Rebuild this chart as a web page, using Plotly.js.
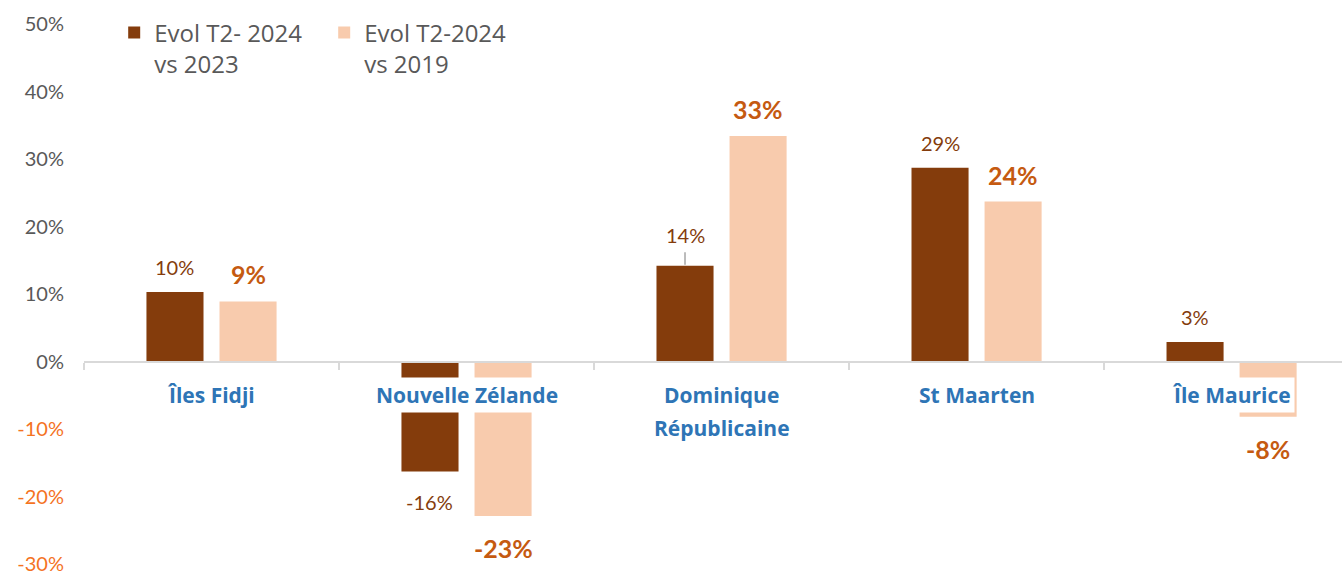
<!DOCTYPE html>
<html><head><meta charset="utf-8">
<script src="https://cdn.plot.ly/plotly-3.0.1.min.js"></script>
<style>html,body{margin:0;padding:0;background:#fff}#chart{width:1342px;height:575px}</style>
</head><body><div id="chart"></div>
<script>
// ---- data ----
const categories = ["Îles Fidji", "Nouvelle Zélande", "Dominique<br>Républicaine", "St Maarten", "Île Maurice"];
const seriesNames = ["Evol T2- 2024<br>vs 2023", "Evol T2-2024<br>vs 2019"];
const evolVs2023 = [0.103, -0.163, 0.142, 0.287, 0.029];
const evolVs2019 = [0.089, -0.229, 0.334, 0.237, -0.082];
const yTickValues = [-0.3, -0.2, -0.1, 0, 0.1, 0.2, 0.3, 0.4, 0.5];
const yTickLabels = ["-30%", "-20%", "-10%", "0%", "10%", "20%", "30%", "40%", "50%"];

// ---- style ----
const W = 1342, H = 575;
const M = {l: 84, r: 0, t: 24, b: 11};
const XRANGE = [-0.5, 4.433];
const YRANGE = [-0.30, 0.50];
const BARGAP = 0.427, BARGROUPGAP = 0.219;
const DARK = "#843C0C", LIGHT = "#F8CBAD";
const DARK_LABEL = "#843C0C", LIGHT_LABEL = "#C55A11";
const AXIS_GREY = "#D9D9D9", TEXT_GREY = "#595959", NEG_ORANGE = "#F4731F";
const CAT_BLUE = "#2E75B6";
const LEADER_CAT = 2; // category whose dark label is lifted with a leader line

const catPx = (W - M.l - M.r) / (XRANGE[1] - XRANGE[0]);
const slotPx = catPx * (1 - BARGAP) / 2;
const barOffset = slotPx / 2;

const traces = [
  {type: "bar", name: seriesNames[0], x: categories, y: evolVs2023,
   marker: {color: DARK}, hoverinfo: "skip"},
  {type: "bar", name: seriesNames[1], x: categories, y: evolVs2019,
   marker: {color: LIGHT}, hoverinfo: "skip"}
];

const pct = v => Math.round(v * 100) + "%";
const annotations = [];

// data labels
function addLabels(vals, side, color, size, weight, base) {
  vals.forEach((v, i) => {
    let shift = v >= 0 ? base : -(base + 5);
    if (side < 0 && i === LEADER_CAT) shift += 6;
    annotations.push({
      x: categories[i], y: v, xref: "x", yref: "y",
      text: pct(v), showarrow: false,
      xshift: side * barOffset, yshift: shift, yanchor: "middle",
      font: {family: "Lato, sans-serif", size: size, color: color, weight: weight}
    });
  });
}
addLabels(evolVs2023, -1, DARK_LABEL, 20, 400, 25);
addLabels(evolVs2019, 1, LIGHT_LABEL, 25, 700, 27);

// leader line for the lifted label
annotations.push({
  x: categories[LEADER_CAT], y: evolVs2023[LEADER_CAT], xref: "x", yref: "y",
  text: "", showarrow: true, arrowhead: 0, ax: 0, ay: -15, standoff: 1,
  arrowcolor: "#A6A6A6", arrowwidth: 1.5, xshift: -barOffset
});

// category labels (white boxes, like the original)
categories.forEach(c => {
  c.split("<br>").forEach((line, k) => {
    annotations.push({
      x: c, y: 0, xref: "x", yref: "y", text: line, showarrow: false,
      yanchor: "middle", yshift: -33 - 33 * k,
      bgcolor: "#FFFFFF", borderpad: 3,
      font: {family: "'Open Sans', sans-serif", size: 21, color: CAT_BLUE, weight: 700}
    });
  });
});

const yTickText = yTickValues.map((v, i) =>
  v < 0 ? '<span style="color:' + NEG_ORANGE + '">' + yTickLabels[i] + '</span>' : yTickLabels[i]);

const layout = {
  width: W, height: H,
  margin: M,
  paper_bgcolor: "#FFFFFF", plot_bgcolor: "#FFFFFF",
  barmode: "group", bargap: BARGAP, bargroupgap: BARGROUPGAP,
  showlegend: true,
  legend: {
    orientation: "h", x: 0.024, xanchor: "left", y: 1.025, yanchor: "top",
    valign: "top", entrywidth: 165, entrywidthmode: "pixels",
    font: {family: "'Open Sans', sans-serif", size: 24, color: TEXT_GREY},
    bgcolor: "rgba(0,0,0,0)", traceorder: "normal"
  },
  xaxis: {
    type: "category", range: XRANGE, fixedrange: true,
    anchor: "free", position: (0 - YRANGE[0]) / (YRANGE[1] - YRANGE[0]),
    showline: true, linecolor: AXIS_GREY, linewidth: 2,
    ticks: "outside", tickson: "boundaries", ticklen: 7, tickwidth: 2, tickcolor: AXIS_GREY,
    showticklabels: false, showgrid: false, zeroline: false
  },
  yaxis: {
    range: YRANGE, fixedrange: true,
    tickmode: "array", tickvals: yTickValues, ticktext: yTickText,
    showgrid: false, zeroline: false, showline: false, ticks: "",
    ticklabelstandoff: 19,
    tickfont: {family: "Lato, sans-serif", size: 20, color: TEXT_GREY}
  },
  annotations: annotations
};

Plotly.newPlot("chart", traces, layout, {displayModeBar: false, staticPlot: true});
</script>
</body></html>
